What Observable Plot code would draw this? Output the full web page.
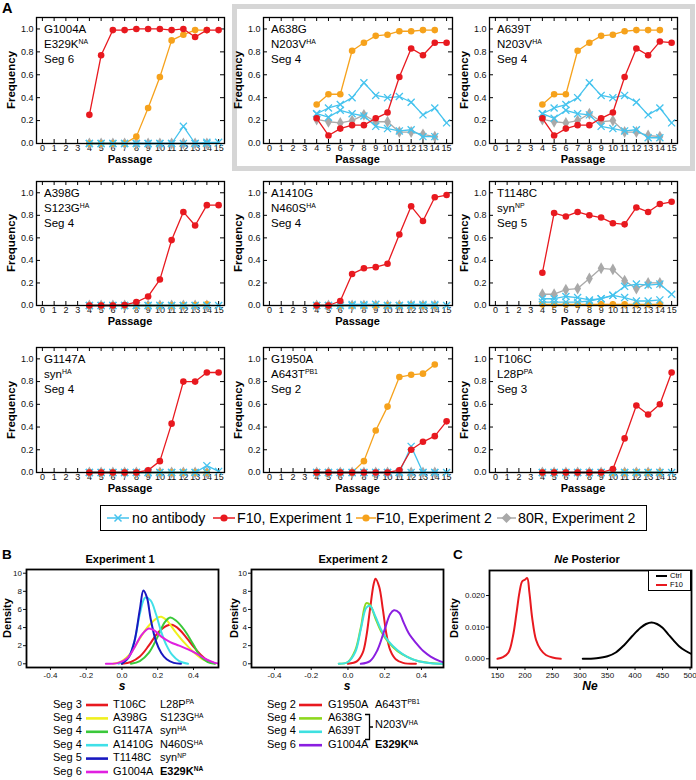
<!DOCTYPE html>
<html><head><meta charset="utf-8">
<script src="https://cdn.jsdelivr.net/npm/d3@7"></script>
<script src="https://cdn.jsdelivr.net/npm/@observablehq/plot@0.6"></script>
<style>
body{margin:0;background:#fff;}
#fig{position:relative;width:696px;height:780px;font-family:"Liberation Sans",Arial,Helvetica,sans-serif;color:#000;overflow:hidden;background:#fff;}
.abs{position:absolute;white-space:nowrap;line-height:1;}
.sp{position:relative;top:-0.5em;font-size:0.6em;}
</style></head><body><div id="fig"></div>
<script>
// ---------- DATA: Panel A (frequency by passage) ----------
const passageTicks = [0,1,2,3,4,5,6,7,8,9,10,11,12,13,14,15];
const passagesExp1 = [4,5,6,7,8,9,10,11,12,13,14,15];
const passagesExp2 = [4,5,6,7,8,9,10,11,12,13,14];
const freqTicks = [0,0.2,0.4,0.6,0.8,1.0];
const seriesNames = ["no antibody","F10, Experiment 1","F10, Experiment 2","80R, Experiment 2"];

const G1004A_noAb1 = [0,0,0,0,0,0,0,0,0.15,0,0.01,0.01];
const G1004A_noAb2 = [0,0,0,0,0,0,0,0,0,0,0];
const G1004A_f10e1 = [0.25,0.77,0.99,0.99,1.0,1.0,1.0,0.99,1.0,0.93,0.99,0.99];
const G1004A_f10e2 = [0,0,0,0,0.06,0.31,0.58,0.90,0.95,0.99,0.99];
const G1004A_r80   = [0,0,0,0,0,0,0,0,0,0,0];

const A638G_noAb1 = [0.26,0.31,0.34,0.40,0.53,0.42,0.40,0.41,0.36,0.25,0.31,0.18];
const A638G_noAb2 = [0.26,0.23,0.29,0.26,0.24,0.15,0.13,0.11,0.12,0.06,0.06];
const A638G_f10e1 = [0.22,0.07,0.13,0.16,0.16,0.22,0.27,0.58,0.83,0.77,0.88,0.88];
const A638G_f10e2 = [0.34,0.43,0.43,0.81,0.88,0.94,0.95,0.98,0.98,0.99,0.99];
const A638G_r80   = [0.21,0.19,0.18,0.20,0.25,0.19,0.19,0.10,0.10,0.08,0.06];

const A639T_noAb1 = [0.26,0.31,0.34,0.40,0.53,0.42,0.40,0.42,0.36,0.25,0.31,0.18];
const A639T_noAb2 = [0.26,0.22,0.29,0.26,0.25,0.15,0.13,0.11,0.12,0.05,0.05];
const A639T_f10e1 = [0.22,0.07,0.13,0.16,0.16,0.22,0.27,0.58,0.83,0.77,0.89,0.88];
const A639T_f10e2 = [0.34,0.43,0.43,0.81,0.88,0.94,0.95,0.98,0.99,0.99,0.99];
const A639T_r80   = [0.21,0.19,0.18,0.20,0.26,0.19,0.20,0.10,0.10,0.07,0.06];

const A398G_noAb1 = [0,0,0,0,0,0,0,0,0,0,0,0];
const A398G_noAb2 = [0,0,0,0,0,0,0,0,0,0,0];
const A398G_f10e1 = [0,0,0,0.005,0.03,0.08,0.23,0.58,0.83,0.71,0.89,0.89];
const A398G_f10e2 = [0,0,0,0,0,0,0,0,0,0.005,0.01];
const A398G_r80   = [0,0,0,0,0,0,0,0,0,0,0];

const A1410G_noAb1 = [0,0,0,0,0,0.01,0,0,0,0,0,0];
const A1410G_noAb2 = [0,0,0,0.01,0.01,0.01,0,0,0.01,0.01,0.01];
const A1410G_f10e1 = [0,0,0.04,0.28,0.33,0.34,0.37,0.63,0.88,0.75,0.96,0.98];
const A1410G_f10e2 = [0,0,0,0,0,0,0,0,0,0,0];
const A1410G_r80   = [0,0,0,0,0,0,0,0,0,0,0];

const T1148C_noAb1 = [0.06,0.06,0.08,0.07,0.05,0.06,0.09,0.17,0.19,0.18,0.19,0.10];
const T1148C_noAb2 = [0.03,0.03,0.03,0.03,0.04,0.06,0.09,0.07,0.04,0.04,0.05];
const T1148C_f10e1 = [0.29,0.82,0.79,0.83,0.80,0.78,0.73,0.72,0.87,0.83,0.90,0.92];
const T1148C_f10e2 = [0.01,0.01,0.01,0.01,0.01,0.01,0.01,0.01,0.01,0.01,0.01];
const T1148C_r80   = [0.10,0.10,0.14,0.15,0.24,0.33,0.32,0.22,0.15,0.20,0.20];

const G1147A_noAb1 = [0,0,0,0,0,0,0,0,0,0,0.06,0.01];
const G1147A_noAb2 = [0,0,0,0,0,0,0,0,0,0,0];
const G1147A_f10e1 = [0,0,0,0,0,0.02,0.10,0.43,0.80,0.80,0.88,0.88];
const G1147A_f10e2 = [0,0,0,0,0,0,0,0,0,0,0];
const G1147A_r80   = [0,0,0,0,0,0,0,0,0,0,0];

const G1950A_noAb1 = [0,0,0,0,0,0,0,0,0.23,0,0,0];
const G1950A_noAb2 = [0,0,0,0,0,0,0,0,0,0,0];
const G1950A_f10e1 = [0,0,0,0,0,0,0,0.02,0.20,0.27,0.32,0.45];
const G1950A_f10e2 = [0,0,0,0,0.10,0.37,0.58,0.84,0.86,0.87,0.95];
const G1950A_r80   = [0,0,0,0,0,0,0,0,0,0,0];

const T106C_noAb1 = [0,0,0,0,0,0,0,0,0,0,0,0];
const T106C_noAb2 = [0,0,0,0,0,0,0,0,0,0,0];
const T106C_f10e1 = [0,0,0,0,0,0,0.03,0.30,0.59,0.51,0.60,0.88];
const T106C_f10e2 = [0,0,0,0,0,0,0,0,0,0,0];
const T106C_r80   = [0,0,0,0,0,0,0,0,0,0,0];

const panelLabels = [
  ["G1004A","E329K","NA","Seg 6"],
  ["A638G","N203V","HA","Seg 4"],
  ["A639T","N203V","HA","Seg 4"],
  ["A398G","S123G","HA","Seg 4"],
  ["A1410G","N460S","HA","Seg 4"],
  ["T1148C","syn","NP","Seg 5"],
  ["G1147A","syn","HA","Seg 4"],
  ["G1950A","A643T","PB1","Seg 2"],
  ["T106C","L28P","PA","Seg 3"]
];

// ---------- DATA: Panel B (posterior density of s) ----------
const sTicks = [-0.4,-0.2,0.0,0.2,0.4];
const densTicks = [0,2,4,6,8,10];
const e1_T106C  = [[0.0,0],[0.05,0.2],[0.1,0.8],[0.15,2.0],[0.2,3.4],[0.25,4.2],[0.28,4.3],[0.32,3.8],[0.36,2.9],[0.4,1.9],[0.44,1.0],[0.48,0.35],[0.52,0.05]];
const e1_A398G  = [[-0.05,0],[0.0,0.3],[0.05,1.2],[0.1,2.8],[0.15,4.2],[0.2,5.1],[0.22,5.2],[0.25,4.8],[0.3,3.5],[0.35,2.3],[0.4,1.3],[0.45,0.5],[0.5,0.1]];
const e1_G1147A = [[0.05,0],[0.1,0.3],[0.15,1.2],[0.2,3.0],[0.24,4.6],[0.27,5.1],[0.3,4.8],[0.35,3.7],[0.4,2.1],[0.44,0.8],[0.48,0.2],[0.52,0]];
const e1_A1410G = [[-0.02,0],[0.03,0.5],[0.07,2.5],[0.1,5.5],[0.13,7.3],[0.16,7.0],[0.19,5.5],[0.22,3.5],[0.25,2.0],[0.28,1.0],[0.32,0.3],[0.37,0]];
const e1_T1148C = [[0.0,0],[0.04,0.8],[0.07,2.5],[0.1,6.0],[0.12,8.1],[0.14,7.3],[0.16,5.0],[0.19,2.5],[0.22,1.2],[0.25,0.5],[0.29,0.1],[0.33,0]];
const e1_G1004A = [[-0.09,0],[-0.02,0.1],[0.03,0.6],[0.07,1.8],[0.11,3.2],[0.15,3.9],[0.18,3.7],[0.22,3.0],[0.27,2.4],[0.32,2.0],[0.37,1.6],[0.42,1.1],[0.47,0.5],[0.52,0.1],[0.55,0]];
const e2_G1950A = [[0.0,0],[0.05,0.3],[0.08,1.2],[0.1,3.0],[0.12,6.0],[0.14,8.8],[0.15,9.4],[0.17,8.5],[0.19,6.0],[0.21,3.2],[0.23,1.5],[0.26,0.5],[0.3,0.1],[0.37,0]];
const e2_A638G  = [[-0.05,0],[0.0,0.2],[0.04,1.5],[0.07,4.0],[0.1,6.7],[0.12,6.5],[0.15,5.0],[0.18,3.6],[0.22,2.4],[0.27,1.4],[0.32,0.8],[0.38,0.3],[0.45,0.1],[0.52,0]];
const e2_A639T  = [[-0.05,0],[0.0,0.2],[0.04,1.3],[0.07,3.8],[0.1,6.2],[0.12,6.4],[0.15,5.2],[0.18,3.8],[0.22,2.5],[0.27,1.5],[0.32,0.8],[0.38,0.3],[0.45,0.05],[0.52,0]];
const e2_G1004A = [[0.07,0],[0.12,0.3],[0.16,1.5],[0.2,3.8],[0.23,5.5],[0.25,5.9],[0.28,5.6],[0.3,4.7],[0.33,3.4],[0.37,2.3],[0.41,1.4],[0.45,0.8],[0.5,0.3],[0.53,0.1]];

const exp1Segs = ["Seg 3","Seg 4","Seg 4","Seg 4","Seg 5","Seg 6"];
const exp1Muts = ["T106C","A398G","G1147A","A1410G","T1148C","G1004A"];
const exp1AA   = ["L28P","S123G","syn","N460S","syn","E329K"];
const exp1Prot = ["PA","HA","HA","HA","NP","NA"];
const exp2Segs = ["Seg 2","Seg 4","Seg 4","Seg 6"];
const exp2Muts = ["G1950A","A638G","A639T","G1004A"];

// ---------- DATA: Panel C (Ne posterior) ----------
const neTicks = [150,200,250,300,350,400,450,500];
const neDensTicks = [0,0.01,0.02];
const ne_Ctrl = [[305,0],[330,0.0002],[350,0.0008],[365,0.002],[380,0.0043],[395,0.0072],[410,0.0098],[420,0.011],[430,0.0115],[440,0.011],[450,0.0098],[460,0.0078],[470,0.0058],[480,0.004],[490,0.0027],[503,0.0015]];
const ne_F10  = [[150,0],[160,0.0005],[170,0.002],[178,0.007],[185,0.015],[190,0.021],[195,0.0245],[200,0.025],[204,0.0255],[208,0.021],[213,0.013],[220,0.006],[228,0.003],[238,0.0012],[250,0.0004],[265,0]];

// ---------- STYLE / LAYOUT ----------
const FONT = "'Liberation Sans', Arial, Helvetica, sans-serif";
const COL = {noAb:"#45c3ee", f10e1:"#e8191f", f10e2:"#f6a21c", r80:"#a9a9a9"};
const e1Colors = ["#e8191f","#f0f01e","#3ac83a","#40e0e8","#1818c0","#e020e0"];
const e2Colors = ["#e8191f","#8ed81e","#3ee0e0","#8a1ee0"];
const fig = document.getElementById("fig");

function addText(html, x, baseline, o = {}) {
  const size = o.size || 11;
  const d = document.createElement("div");
  d.className = "abs";
  d.innerHTML = html;
  d.style.fontSize = size + "px";
  d.style.fontWeight = o.weight || "normal";
  d.style.fontStyle = o.style || "normal";
  d.style.left = x + "px";
  d.style.top = (baseline - 0.846 * size) + "px";
  if (o.anchor === "middle") d.style.transform = "translateX(-50%)";
  if (o.anchor === "end") d.style.transform = "translateX(-100%)";
  fig.appendChild(d);
  return d;
}
function addVText(html, cx, cy, size, weight) {
  const d = document.createElement("div");
  d.className = "abs";
  d.innerHTML = html;
  d.style.fontSize = size + "px";
  d.style.fontWeight = weight || "bold";
  d.style.left = cx + "px";
  d.style.top = cy + "px";
  d.style.transform = "translate(-50%,-50%) rotate(-90deg)";
  fig.appendChild(d);
}
function place(node, left, top) {
  node.style.position = "absolute";
  node.style.left = left + "px";
  node.style.top = top + "px";
  fig.appendChild(node);
}
function addSvg(svg) {
  const d = document.createElement("div");
  d.style.position = "absolute"; d.style.left = "0px"; d.style.top = "0px";
  d.innerHTML = `<svg width="696" height="780" style="overflow:visible;display:block">${svg}</svg>`;
  fig.appendChild(d);
}

// grey highlight box around A638G / A639T
const box = document.createElement("div");
Object.assign(box.style, {position:"absolute", left:"232px", top:"4px", width:"463px", height:"167px",
  border:"5px solid #d6d6d6", boxSizing:"border-box"});
fig.appendChild(box);

// ---------- Panel A ----------
const colLeft = [36, 263, 489], colW = [188, 189, 188];
const rowTop = [17, 181, 347], rowH = [126, 124, 125];
const panelData = [
  [G1004A_noAb1,G1004A_noAb2,G1004A_f10e1,G1004A_f10e2,G1004A_r80],
  [A638G_noAb1,A638G_noAb2,A638G_f10e1,A638G_f10e2,A638G_r80],
  [A639T_noAb1,A639T_noAb2,A639T_f10e1,A639T_f10e2,A639T_r80],
  [A398G_noAb1,A398G_noAb2,A398G_f10e1,A398G_f10e2,A398G_r80],
  [A1410G_noAb1,A1410G_noAb2,A1410G_f10e1,A1410G_f10e2,A1410G_r80],
  [T1148C_noAb1,T1148C_noAb2,T1148C_f10e1,T1148C_f10e2,T1148C_r80],
  [G1147A_noAb1,G1147A_noAb2,G1147A_f10e1,G1147A_f10e2,G1147A_r80],
  [G1950A_noAb1,G1950A_noAb2,G1950A_f10e1,G1950A_f10e2,G1950A_r80],
  [T106C_noAb1,T106C_noAb2,T106C_f10e1,T106C_f10e2,T106C_r80]
];
const pts = (xs, vals) => xs.map((x, i) => ({x, y: vals[i]}));

function panelA(vals, fw, fh) {
  const [noAb1, noAb2, f10e1, f10e2, r80] = vals;
  const mL = 40, mR = 6, mT = 6, mB = 14;
  const series = [
    {d: pts(passagesExp2, r80),   c: COL.r80,   sym: "diamond", r: 3.6, filled: true},
    {d: pts(passagesExp2, f10e2), c: COL.f10e2, sym: "circle",  r: 3.3, filled: true},
    {d: pts(passagesExp2, noAb2), c: COL.noAb,  sym: "times",   r: 3.3},
    {d: pts(passagesExp1, noAb1), c: COL.noAb,  sym: "times",   r: 3.3},
    {d: pts(passagesExp1, f10e1), c: COL.f10e1, sym: "circle",  r: 3.3, filled: true}
  ];
  const marks = [
    Plot.tickX(passageTicks, {x: d => d, insetTop: fh - 4, stroke: "#000"}),
    Plot.tickX(passageTicks, {x: d => d, insetBottom: fh - 4, stroke: "#000"}),
    Plot.tickY(freqTicks, {y: d => d, insetRight: fw - 4, stroke: "#000"}),
    Plot.tickY(freqTicks, {y: d => d, insetLeft: fw - 4, stroke: "#000"})
  ];
  for (const s of series) {
    marks.push(Plot.line(s.d, {x: "x", y: "y", stroke: s.c, strokeWidth: 1.3}));
    marks.push(Plot.dot(s.d, s.filled
      ? {x: "x", y: "y", symbol: s.sym, r: s.r, fill: s.c}
      : {x: "x", y: "y", symbol: s.sym, r: s.r, stroke: s.c, strokeWidth: 1.3}));
  }
  marks.push(Plot.frame({stroke: "#000", strokeWidth: 1.3}));
  return Plot.plot({
    width: mL + fw + mR, height: mT + fh + mB,
    marginLeft: mL, marginRight: mR, marginTop: mT, marginBottom: mB,
    style: {background: "transparent", fontSize: "9px", fontFamily: FONT, overflow: "visible", color: "#111"},
    x: {domain: [-0.5, 15.5], ticks: passageTicks, tickSize: 0, tickPadding: 1.5, label: null},
    y: {domain: [0, 1.1], ticks: freqTicks, tickSize: 0, tickPadding: 3, tickFormat: d => d.toFixed(1), label: null},
    marks
  });
}

for (let i = 0; i < 9; i++) {
  const r = Math.floor(i / 3), c = i % 3;
  const fx = colLeft[c], fy = rowTop[r], fw = colW[c], fh = rowH[r];
  place(panelA(panelData[i], fw, fh), fx - 40, fy - 6);
  const L = panelLabels[i];
  addText(L[0], fx + 8, fy + 16.5, {size: 11.5});
  addText(`${L[1]}<span class="sp">${L[2]}</span>`, fx + 8, fy + 31.5, {size: 11.5});
  addText(L[3], fx + 8, fy + 46.5, {size: 11.5});
  addVText("Frequency", fx - 24, fy + fh / 2, 11.5, "bold");
  addText("Passage", fx + fw / 2, fy + fh + 20, {size: 11, weight: "bold", anchor: "middle"});
}
addText("A", 2, 13, {size: 14.5, weight: "bold"});

// ---------- Main legend ----------
const lg = document.createElement("div");
Object.assign(lg.style, {position:"absolute", left:"100px", top:"505px", width:"547px", height:"26px",
  border:"1.5px solid #000", boxSizing:"border-box"});
fig.appendChild(lg);
const lgY = 518;
const lgItems = [
  {x0: 107, x1: 129, tx: 132, c: COL.noAb,  sym: "times"},
  {x0: 213, x1: 235, tx: 237, c: COL.f10e1, sym: "circle"},
  {x0: 356, x1: 376, tx: 376, c: COL.f10e2, sym: "circle"},
  {x0: 497, x1: 516, tx: 518, c: COL.r80,   sym: "diamond"}
];
let lgSvg = "";
lgItems.forEach((it, i) => {
  const cx = (it.x0 + it.x1) / 2;
  lgSvg += `<line x1="${it.x0}" x2="${it.x1}" y1="${lgY}" y2="${lgY}" stroke="${it.c}" stroke-width="1.5"/>`;
  if (it.sym === "times") lgSvg += `<path d="M${cx-3.5},${lgY-3.5}L${cx+3.5},${lgY+3.5}M${cx-3.5},${lgY+3.5}L${cx+3.5},${lgY-3.5}" stroke="${it.c}" stroke-width="1.5"/>`;
  if (it.sym === "circle") lgSvg += `<circle cx="${cx}" cy="${lgY}" r="3.6" fill="${it.c}"/>`;
  if (it.sym === "diamond") lgSvg += `<path d="M${cx},${lgY-5}L${cx+5},${lgY}L${cx},${lgY+5}L${cx-5},${lgY}Z" fill="${it.c}"/>`;
  addText(seriesNames[i], it.tx, 523, {size: 14.2});
});
addSvg(lgSvg);

// ---------- Panel B ----------
function densityPlot(curves, fw, fh, xDomain, yDomain, xTicks, yTicks, xFmt, yFmt, mL) {
  const mR = 4, mT = 4, mB = 14;
  const marks = curves.map(c => Plot.line(c.pts, {x: d => d[0], y: d => d[1], stroke: c.color, strokeWidth: 2, curve: "catmull-rom", clip: true}));
  marks.push(Plot.frame({stroke: "#000", strokeWidth: 1.8}));
  return Plot.plot({
    width: mL + fw + mR, height: mT + fh + mB,
    marginLeft: mL, marginRight: mR, marginTop: mT, marginBottom: mB,
    style: {background: "transparent", fontSize: "8px", fontFamily: FONT, overflow: "visible", color: "#111"},
    x: {domain: xDomain, ticks: xTicks, tickSize: 3, tickPadding: 2, tickFormat: xFmt, label: null},
    y: {domain: yDomain, ticks: yTicks, tickSize: 3, tickPadding: 1.5, tickFormat: yFmt, label: null},
    marks
  });
}
const e1Curves = [e1_T106C, e1_A398G, e1_G1147A, e1_A1410G, e1_T1148C, e1_G1004A].map((p, i) => ({pts: p, color: e1Colors[i]}));
const e2Curves = [e2_G1950A, e2_A638G, e2_A639T, e2_G1004A].map((p, i) => ({pts: p, color: e2Colors[i]}));
const fmt1 = d => d.toFixed(1), fmt0 = d => String(d);
place(densityPlot(e1Curves, 192, 98, [-0.534, 0.54], [-0.41, 10.41], sTicks, densTicks, fmt1, fmt0, 30), 26 - 30, 569 - 4);
place(densityPlot(e2Curves, 192, 98, [-0.525, 0.52], [-0.41, 10.41], sTicks, densTicks, fmt1, fmt0, 30), 251 - 30, 569 - 4);

addText("B", 2, 559, {size: 13.5, weight: "bold"});
addText("Experiment 1", 120, 563.5, {size: 11, weight: "bold", anchor: "middle"});
addText("Experiment 2", 353, 563.5, {size: 11, weight: "bold", anchor: "middle"});
addVText("Density", 7, 618, 11, "bold");
addVText("Density", 234, 618, 11, "bold");
addText("s", 122, 690.5, {size: 12, weight: "bold", style: "italic", anchor: "middle"});
addText("s", 347, 690.5, {size: 12, weight: "bold", style: "italic", anchor: "middle"});

// Panel B legends
const e1Base = [708, 721.4, 734.8, 748.2, 761.6, 775];
let bSvg = "";
exp1Segs.forEach((sg, i) => {
  const b = e1Base[i];
  addText(sg, 53, b, {size: 11});
  bSvg += `<line x1="86" x2="108" y1="${b-3}" y2="${b-3}" stroke="${e1Colors[i]}" stroke-width="2.6"/>`;
  addText(exp1Muts[i], 113, b, {size: 11});
  const aa = `${exp1AA[i]}<span class="sp">${exp1Prot[i]}</span>`;
  addText(i === 5 ? `<b>${aa}</b>` : aa, 160, b, {size: 11});
});
const e2Base = [708, 721.4, 734.8, 748.2];
exp2Segs.forEach((sg, i) => {
  const b = e2Base[i];
  addText(sg, 267, b, {size: 11});
  bSvg += `<line x1="299" x2="322" y1="${b-3}" y2="${b-3}" stroke="${e2Colors[i]}" stroke-width="2.6"/>`;
  addText(exp2Muts[i], 328, b, {size: 11});
});
addText(`A643T<span class="sp">PB1</span>`, 375, 708, {size: 11});
addText(`<b>E329K<span class="sp">NA</span></b>`, 375, 748.2, {size: 11});
bSvg += `<path d="M365,714.5H369.5V739.5H365M369.5,727H373" fill="none" stroke="#000" stroke-width="1.3"/>`;
addText(`N203V<span class="sp">HA</span>`, 375, 728.5, {size: 11});
addSvg(bSvg);

// ---------- Panel C ----------
const cCurves = [{pts: ne_Ctrl, color: "#000"}, {pts: ne_F10, color: "#e8191f"}];
place(densityPlot(cCurves, 202, 97, [135.5, 502.6], [-0.00275, 0.0279], neTicks, neDensTicks, fmt0, d => d.toFixed(3), 34), 489 - 34, 570 - 4);
addText("C", 453, 559, {size: 13.5, weight: "bold"});
addText("<i>Ne</i> Posterior", 587, 563.5, {size: 11, weight: "bold", anchor: "middle"});
addVText("Density", 454, 618, 11, "bold");
addText("Ne", 590, 690.5, {size: 12, weight: "bold", style: "italic", anchor: "middle"});
const cl = document.createElement("div");
Object.assign(cl.style, {position:"absolute", left:"648px", top:"570px", width:"43px", height:"21px",
  border:"1px solid #000", boxSizing:"border-box", background:"#fff"});
fig.appendChild(cl);
addSvg(`<line x1="656" x2="667" y1="576" y2="576" stroke="#000" stroke-width="2"/><line x1="656" x2="667" y1="585" y2="585" stroke="#e8191f" stroke-width="2"/>`);
addText("Ctrl", 670, 578.5, {size: 7.5});
addText("F10", 670, 587.5, {size: 7.5});
</script></body></html>
